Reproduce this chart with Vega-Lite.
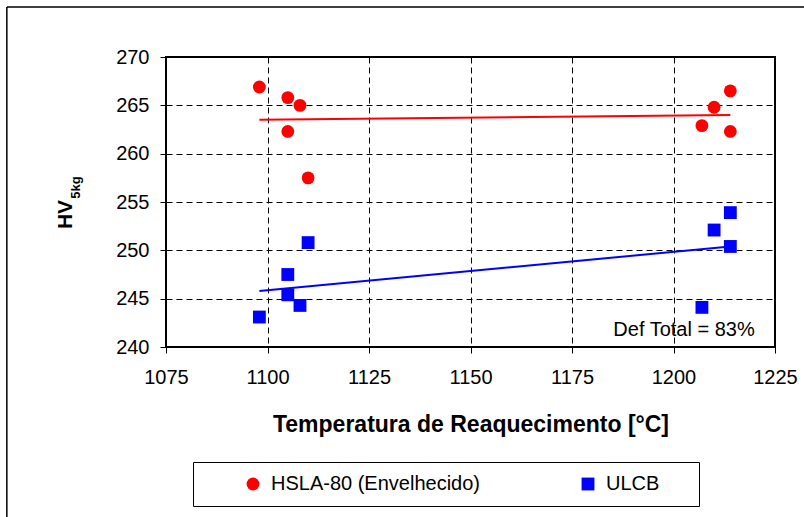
{
  "$schema": "https://vega.github.io/schema/vega-lite/v6.json",
  "width": 609,
  "height": 290,
  "autosize": "none",
  "padding": {"left": 166, "top": 57, "right": 29, "bottom": 170},
  "background": "white",
  "config": {
    "font": "Liberation Sans",
    "view": {"stroke": "#000", "strokeWidth": 2},
    "axis": {
      "domain": false,
      "grid": true,
      "gridColor": "#000",
      "gridDash": [6, 4],
      "gridWidth": 1,
      "gridOpacity": 1,
      "tickColor": "#000",
      "tickSize": 6,
      "tickWidth": 1,
      "labelFont": "Liberation Sans",
      "labelFontSize": 20,
      "labelColor": "#000",
      "titleFont": "Liberation Sans",
      "titleColor": "#000",
      "titleFontWeight": "bold"
    },
    "legend": {
      "labelFont": "Liberation Sans",
      "labelFontSize": 20,
      "labelColor": "#000"
    }
  },
  "datasets": {
    "points": [
      {"temp": 1098, "hv": 266.9, "series": "HSLA-80 (Envelhecido)"},
      {"temp": 1105, "hv": 265.8, "series": "HSLA-80 (Envelhecido)"},
      {"temp": 1108, "hv": 265.0, "series": "HSLA-80 (Envelhecido)"},
      {"temp": 1105, "hv": 262.3, "series": "HSLA-80 (Envelhecido)"},
      {"temp": 1110, "hv": 257.5, "series": "HSLA-80 (Envelhecido)"},
      {"temp": 1214, "hv": 266.5, "series": "HSLA-80 (Envelhecido)"},
      {"temp": 1210, "hv": 264.8, "series": "HSLA-80 (Envelhecido)"},
      {"temp": 1207, "hv": 262.9, "series": "HSLA-80 (Envelhecido)"},
      {"temp": 1214, "hv": 262.3, "series": "HSLA-80 (Envelhecido)"},
      {"temp": 1098, "hv": 243.1, "series": "ULCB"},
      {"temp": 1105, "hv": 247.5, "series": "ULCB"},
      {"temp": 1105, "hv": 245.4, "series": "ULCB"},
      {"temp": 1108, "hv": 244.3, "series": "ULCB"},
      {"temp": 1110, "hv": 250.8, "series": "ULCB"},
      {"temp": 1214, "hv": 253.9, "series": "ULCB"},
      {"temp": 1210, "hv": 252.1, "series": "ULCB"},
      {"temp": 1214, "hv": 250.4, "series": "ULCB"},
      {"temp": 1207, "hv": 244.1, "series": "ULCB"}
    ],
    "trend": [
      {"temp": 1098, "hv": 263.5, "series": "HSLA-80 (Envelhecido)"},
      {"temp": 1214, "hv": 264.0, "series": "HSLA-80 (Envelhecido)"},
      {"temp": 1098, "hv": 245.8, "series": "ULCB"},
      {"temp": 1214, "hv": 250.4, "series": "ULCB"}
    ],
    "notes": [
      {"temp": 1220, "hv": 241.1, "label": "Def Total = 83%", "kind": "note"},
      {"temp": 1052.8, "hv": 256.5, "label": "5kg", "kind": "sub"}
    ]
  },
  "layer": [
    {
      "data": {"name": "points"},
      "mark": {"type": "point", "filled": true, "opacity": 1, "size": 165},
      "encoding": {
        "x": {
          "field": "temp",
          "type": "quantitative",
          "scale": {"domain": [1075, 1225], "nice": false, "zero": false},
          "axis": {
            "values": [1075, 1100, 1125, 1150, 1175, 1200, 1225],
            "format": "d",
            "title": "Temperatura de Reaquecimento [°C]",
            "titleFontSize": 23,
            "labelPadding": 14,
            "titleBaseline": "alphabetic",
            "titleY": 84,
            "labelFlush": false
          }
        },
        "y": {
          "field": "hv",
          "type": "quantitative",
          "scale": {"domain": [240, 270], "nice": false, "zero": false},
          "axis": {
            "values": [240, 245, 250, 255, 260, 265, 270],
            "title": "HV",
            "titleFontSize": 21,
            "titleAngle": -90,
            "titleBaseline": "middle",
            "titleAlign": "center",
            "titleX": -101,
            "titleY": 157,
            "labelPadding": 11
          }
        },
        "color": {
          "field": "series",
          "type": "nominal",
          "scale": {"domain": ["HSLA-80 (Envelhecido)", "ULCB"], "range": ["#ff0000", "#0000ff"]},
          "legend": {
            "title": "\u00a0",
            "titleOrient": "right",
            "titlePadding": 28,
            "titleFontSize": 11,
            "orient": "none",
            "direction": "horizontal",
            "legendX": 27,
            "legendY": 405,
            "strokeColor": "#000",
            "fillColor": "white",
            "padding": 12,
            "symbolOffset": 38,
            "labelOffset": 8,
            "labelLimit": 500,
            "columnPadding": 60,
            "symbolSize": 165
          }
        },
        "shape": {
          "field": "series",
          "type": "nominal",
          "scale": {"domain": ["HSLA-80 (Envelhecido)", "ULCB"], "range": ["circle", "square"]},
          "legend": {
            "title": "\u00a0",
            "orient": "none",
            "direction": "horizontal",
            "legendX": 27,
            "legendY": 405
          }
        }
      }
    },
    {
      "data": {"values": [{"frame": "left"}]},
      "mark": {"type": "rule", "color": "#000", "strokeWidth": 1.5},
      "encoding": {
        "x": {"datum": 1035.8, "type": "quantitative"},
        "y": {"datum": 275.17, "type": "quantitative"},
        "y2": {"datum": 220}
      }
    },
    {
      "data": {"values": [{"frame": "top"}]},
      "mark": {"type": "rule", "color": "#000", "strokeWidth": 1.5},
      "encoding": {
        "x": {"datum": 1035.8, "type": "quantitative"},
        "x2": {"datum": 1240},
        "y": {"datum": 275.17, "type": "quantitative"}
      }
    },
    {
      "data": {"name": "trend"},
      "transform": [{"filter": "datum.series === 'ULCB'"}],
      "mark": {"type": "line", "color": "#0000ff", "strokeWidth": 2},
      "encoding": {
        "x": {"field": "temp", "type": "quantitative"},
        "y": {"field": "hv", "type": "quantitative"}
      }
    },
    {
      "data": {"name": "trend"},
      "transform": [{"filter": "datum.series !== 'ULCB'"}],
      "mark": {"type": "line", "color": "#ff0000", "strokeWidth": 2},
      "encoding": {
        "x": {"field": "temp", "type": "quantitative"},
        "y": {"field": "hv", "type": "quantitative"}
      }
    },
    {
      "data": {"name": "notes"},
      "transform": [{"filter": "datum.kind === 'note'"}],
      "mark": {"type": "text", "align": "right", "baseline": "alphabetic", "fontSize": 20, "font": "Liberation Sans", "color": "#000"},
      "encoding": {
        "x": {"field": "temp", "type": "quantitative"},
        "y": {"field": "hv", "type": "quantitative"},
        "text": {"field": "label"}
      }
    },
    {
      "data": {"name": "notes"},
      "transform": [{"filter": "datum.kind === 'sub'"}],
      "mark": {"type": "text", "align": "center", "baseline": "middle", "angle": 270, "fontSize": 13, "fontWeight": "bold", "font": "Liberation Sans", "color": "#000"},
      "encoding": {
        "x": {"field": "temp", "type": "quantitative"},
        "y": {"field": "hv", "type": "quantitative"},
        "text": {"field": "label"}
      }
    }
  ]
}
